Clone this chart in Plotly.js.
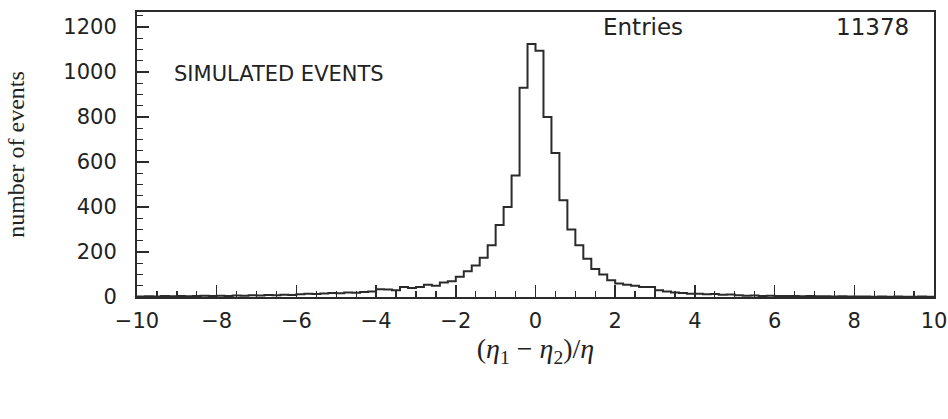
<!DOCTYPE html>
<html>
<head>
<meta charset="utf-8">
<script src="https://cdn.plot.ly/plotly-3.0.1.min.js"></script>
<style>
html,body{margin:0;padding:0;background:#fff;}
#chart{width:948px;height:419px;}
</style>
</head>
<body>
<div id="chart"></div>
<script>
// Histogram: 100 bins of width 0.2 from -10 to 10
const binLow = -10;
const binWidth = 0.2;
const counts = [
  // -10.0 .. -8.0
  2, 3, 2, 4, 3, 5, 3, 4, 6, 5,
  // -8.0 .. -6.0
  6, 5, 7, 6, 8, 7, 9, 8, 10, 9,
  // -6.0 .. -4.0
  12, 14, 13, 16, 18, 17, 20, 19, 22, 25,
  // -4.0 .. -2.0
  35, 33, 30, 45, 40, 45, 55, 50, 65, 70,
  // -2.0 .. 0.0
  90, 115, 140, 175, 230, 320, 400, 540, 930, 1125,
  // 0.0 .. 2.0
  1095, 800, 640, 430, 300, 230, 170, 125, 100, 75,
  // 2.0 .. 4.0
  60, 55, 50, 45, 45, 30, 25, 20, 18, 15,
  // 4.0 .. 6.0
  14, 12, 13, 10, 11, 8, 6, 7, 5, 6,
  // 6.0 .. 8.0
  5, 4, 5, 3, 4, 3, 3, 2, 3, 2,
  // 8.0 .. 10.0
  2, 2, 1, 2, 1, 2, 1, 1, 2, 1
];
const entriesLabel = "Entries";
const entriesValue = "11378";
const panelLabel = "SIMULATED EVENTS";
const xTickVals = [-10, -8, -6, -4, -2, 0, 2, 4, 6, 8, 10];
const yTickVals = [0, 200, 400, 600, 800, 1000, 1200];

// step outline from bin edges
const xs = [], ys = [];
for (let i = 0; i < counts.length; i++) {
  xs.push(binLow + i * binWidth);
  ys.push(counts[i]);
}
xs.push(binLow + counts.length * binWidth);
ys.push(counts[counts.length - 1]);

const ink = '#2b2b2b';
const sans = '"DejaVu Sans", "Open Sans", sans-serif';
const tickFont = {family: sans, size: 21, color: '#222'};

const trace = {
  type: 'scatter', mode: 'lines',
  x: xs, y: ys,
  line: {shape: 'hv', color: ink, width: 2},
  hoverinfo: 'skip'
};

const layout = {
  width: 948, height: 419,
  margin: {l: 137, r: 14, t: 12, b: 122},
  paper_bgcolor: '#fff', plot_bgcolor: '#fff',
  showlegend: false,
  xaxis: {
    range: [-10, 10],
    tickmode: 'array', tickvals: xTickVals,
    ticks: 'inside', ticklen: 12, tickwidth: 1.5, tickcolor: ink,
    minor: {dtick: 0.5, ticks: 'inside', ticklen: 6, tickwidth: 1.3, tickcolor: ink, showgrid: false},
    showgrid: false, zeroline: false,
    showline: true, linecolor: ink, linewidth: 2, mirror: true,
    tickfont: tickFont, ticklabelstandoff: 4,
    title: {text: '(<i>η</i><sub>1</sub> − <i>η</i><sub>2</sub>)/<i>η</i>', font: {family: '"Liberation Serif", "DejaVu Serif", serif', size: 28, color: '#222'}, standoff: 0}
  },
  yaxis: {
    range: [0, 1267],
    tickmode: 'array', tickvals: yTickVals,
    ticks: 'inside', ticklen: 12, tickwidth: 1.5, tickcolor: ink,
    minor: {dtick: 50, ticks: 'inside', ticklen: 6, tickwidth: 1.3, tickcolor: ink, showgrid: false},
    showgrid: false, zeroline: false,
    showline: true, linecolor: ink, linewidth: 2, mirror: true,
    tickfont: tickFont, ticklabelstandoff: 14,
    title: {text: 'number of events', font: {family: '"Liberation Serif", "DejaVu Serif", serif', size: 24, color: '#222'}, standoff: 32}
  },
  annotations: [
    {xref: 'paper', yref: 'paper', x: 0.582, y: 0.947, xanchor: 'left', yanchor: 'middle',
     text: entriesLabel, showarrow: false, font: {family: sans, size: 23, color: '#222'}},
    {xref: 'paper', yref: 'paper', x: 0.971, y: 0.947, xanchor: 'right', yanchor: 'middle',
     text: entriesValue, showarrow: false, font: {family: sans, size: 23, color: '#222'}},
    {xref: 'paper', yref: 'paper', x: 0.044, y: 0.782, xanchor: 'left', yanchor: 'middle',
     text: panelLabel, showarrow: false, font: {family: sans, size: 21, color: '#222'}}
  ]
};

Plotly.newPlot('chart', [trace], layout, {displayModeBar: false, staticPlot: true});
</script>
</body>
</html>
